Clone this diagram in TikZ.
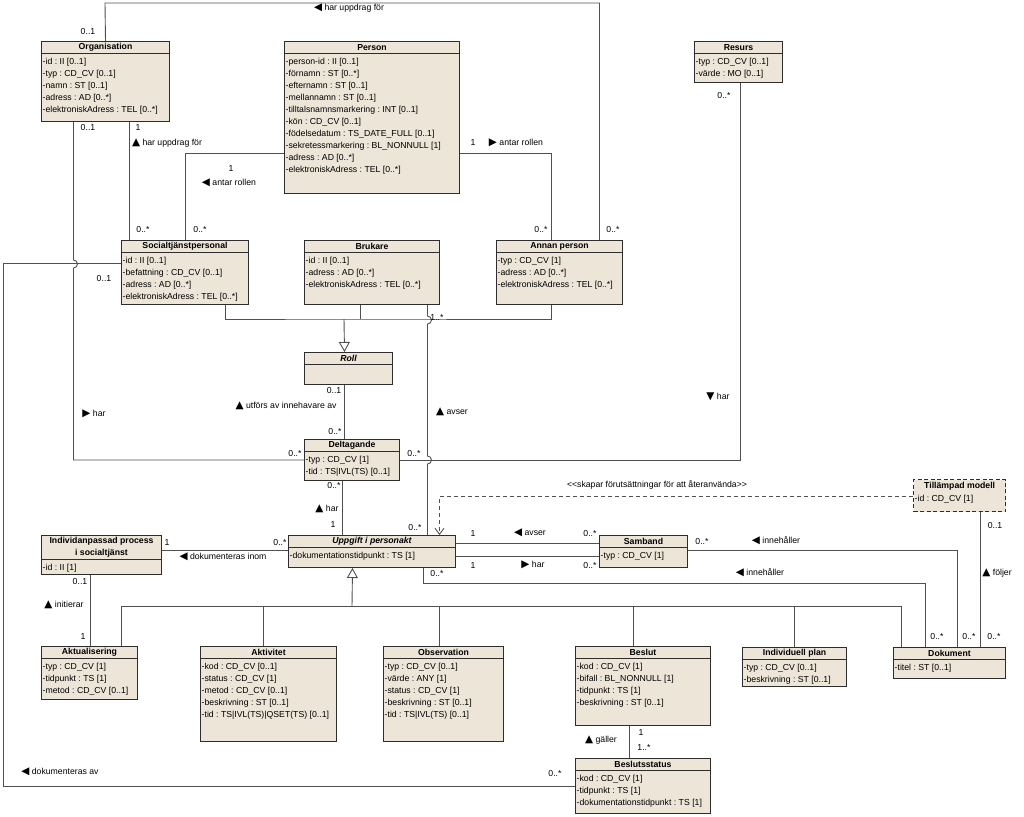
\documentclass[tikz,border=0pt]{standalone}
\usepackage{fontspec}
\setmainfont{Liberation Sans}
\newfontfamily\trifont{DejaVu Sans}
\usetikzlibrary{arrows.meta}
\frenchspacing

\definecolor{classfill}{RGB}{236,229,216}
\definecolor{classline}{RGB}{45,45,45}
\definecolor{pathline}{RGB}{80,80,80}

\newcommand{\umlfont}{\fontsize{8.7}{12}\selectfont}
\newcommand{\arrL}{{\trifont\fontsize{10.5}{12}\selectfont\char"25C0}}
\newcommand{\arrR}{{\trifont\fontsize{10.5}{12}\selectfont\char"25B6}}
\newcommand{\arrU}{{\trifont\fontsize{10.5}{12}\selectfont\char"25B2}}
\newcommand{\arrD}{{\trifont\fontsize{10.5}{12}\selectfont\char"25BC}}

\begin{document}
\begin{tikzpicture}[x=1pt,y=-1pt,
class/.style={rectangle, draw=classline, fill=classfill, line width=1pt, inner sep=0pt, anchor=north west},
classname/.style={anchor=north, inner sep=0pt, minimum height=12pt, font=\umlfont\bfseries, align=center},
divider/.style={draw=classline, line width=0.8pt},
attrs/.style={anchor=north west, align=left, inner xsep=1.5pt, inner ysep=4.5pt, font=\umlfont},
assoc/.style={draw=pathline, line width=0.9pt},
gen/.style={assoc, -{Triangle[open, length=10pt, width=11pt]}},
depend/.style={assoc, dash pattern=on 4pt off 3pt, -{Straight Barb[length=6pt, width=9pt]}},
mult/.style={inner sep=0.5pt, font=\umlfont},
role/.style={inner sep=0.5pt, font=\umlfont}
]
\useasboundingbox [fill=white] (0,0) rectangle (1024,816);

%% Klasser   %%%%%%%%%%%%%%%%%%%%%%%%%%%%%%%%%%%%%%%%%%%%%%%%%%%%%%%%%%%%%%%%%%%%%%%

%% Organisation, Person, Resurs
\node [class, minimum width=128pt, minimum height=80pt] (Org) at (41,41) {};
\node [classname] (OrgN) at (Org.north) {Organisation};
\draw [divider] (OrgN.south -| Org.west) -- (OrgN.south -| Org.east);
\node [attrs] (OrgA) at (OrgN.south -| Org.west) {-id : II [0..1]\\-typ : CD\_CV [0..1]\\-namn : ST [0..1]\\-adress : AD [0..*]\\-elektroniskAdress : TEL [0..*]};

\node [class, minimum width=175pt, minimum height=152pt] (Pers) at (284,41) {};
\node [classname] (PersN) at (Pers.north) {Person};
\draw [divider] (PersN.south -| Pers.west) -- (PersN.south -| Pers.east);
\node [attrs] (PersA) at (PersN.south -| Pers.west) {-person-id : II [0..1]\\-förnamn : ST [0..*]\\-efternamn : ST [0..1]\\-mellannamn : ST [0..1]\\-tilltalsnamnsmarkering : INT [0..1]\\-kön : CD\_CV [0..1]\\-födelsedatum : TS\_DATE\_FULL [0..1]\\-sekretessmarkering : BL\_NONNULL [1]\\-adress : AD [0..*]\\-elektroniskAdress : TEL [0..*]};

\node [class, minimum width=88pt, minimum height=41pt] (Res) at (694,41) {};
\node [classname] (ResN) at (Res.north) {Resurs};
\draw [divider] (ResN.south -| Res.west) -- (ResN.south -| Res.east);
\node [attrs] (ResA) at (ResN.south -| Res.west) {-typ : CD\_CV [0..1]\\-värde : MO [0..1]};

%% Roller
\node [class, minimum width=127pt, minimum height=64pt] (Soc) at (121,240) {};
\node [classname] (SocN) at (Soc.north) {Socialtjänstpersonal};
\draw [divider] (SocN.south -| Soc.west) -- (SocN.south -| Soc.east);
\node [attrs] (SocA) at (SocN.south -| Soc.west) {-id : II [0..1]\\-befattning : CD\_CV [0..1]\\-adress : AD [0..*]\\-elektroniskAdress : TEL [0..*]};

\node [class, minimum width=135pt, minimum height=64pt] (Bru) at (304,240) {};
\node [classname] (BruN) at (Bru.north) {Brukare};
\draw [divider] (BruN.south -| Bru.west) -- (BruN.south -| Bru.east);
\node [attrs] (BruA) at (BruN.south -| Bru.west) {-id : II [0..1]\\-adress : AD [0..*]\\-elektroniskAdress : TEL [0..*]};

\node [class, minimum width=126pt, minimum height=64pt] (Ann) at (496,240) {};
\node [classname] (AnnN) at (Ann.north) {Annan person};
\draw [divider] (AnnN.south -| Ann.west) -- (AnnN.south -| Ann.east);
\node [attrs] (AnnA) at (AnnN.south -| Ann.west) {-typ : CD\_CV [1]\\-adress : AD [0..*]\\-elektroniskAdress : TEL [0..*]};

\node [class, minimum width=88pt, minimum height=32pt] (Roll) at (304,352) {};
\node [classname] (RollN) at (Roll.north) {\itshape Roll};
\draw [divider] (RollN.south -| Roll.west) -- (RollN.south -| Roll.east);

\node [class, minimum width=95pt, minimum height=41pt] (Delt) at (304,439) {};
\node [classname] (DeltN) at (Delt.north) {Deltagande};
\draw [divider] (DeltN.south -| Delt.west) -- (DeltN.south -| Delt.east);
\node [attrs] (DeltA) at (DeltN.south -| Delt.west) {-typ : CD\_CV [1]\\-tid : TS|IVL(TS) [0..1]};

%% Process, Uppgift, Samband, Tillämpad modell
\node [class, minimum width=120pt, minimum height=39pt] (Proc) at (41,535) {};
\node [classname, minimum height=24pt] (ProcN) at (Proc.north) {Individanpassad process\\i socialtjänst};
\draw [divider] (ProcN.south -| Proc.west) -- (ProcN.south -| Proc.east);
\node [attrs] (ProcA) at (ProcN.south -| Proc.west) {-id : II [1]};

\node [class, minimum width=167pt, minimum height=32pt] (Upp) at (288,535) {};
\node [classname] (UppN) at (Upp.north) {\itshape Uppgift i personakt};
\draw [divider] (UppN.south -| Upp.west) -- (UppN.south -| Upp.east);
\node [attrs] (UppA) at (UppN.south -| Upp.west) {-dokumentationstidpunkt : TS [1]};

\node [class, minimum width=88pt, minimum height=32pt] (Samb) at (599,535) {};
\node [classname] (SambN) at (Samb.north) {Samband};
\draw [divider] (SambN.south -| Samb.west) -- (SambN.south -| Samb.east);
\node [attrs] (SambA) at (SambN.south -| Samb.west) {-typ : CD\_CV [1]};

\node [class, dash pattern=on 4pt off 2.5pt, line width=1.3pt, minimum width=92pt, minimum height=32pt] (Till) at (913,479) {};
\node [classname, yshift=-1.5pt] (TillN) at (Till.north) {Tillämpad modell};
\node [attrs, inner ysep=2pt] (TillA) at (TillN.south -| Till.west) {-id : CD\_CV [1]};

%% Uppgifter
\node [class, minimum width=96pt, minimum height=53pt] (Akt) at (41,646) {};
\node [classname] (AktN) at (Akt.north) {Aktualisering};
\draw [divider] (AktN.south -| Akt.west) -- (AktN.south -| Akt.east);
\node [attrs] (AktA) at (AktN.south -| Akt.west) {-typ : CD\_CV [1]\\-tidpunkt : TS [1]\\-metod : CD\_CV [0..1]};

\node [class, minimum width=136pt, minimum height=95pt] (Aktiv) at (200,646) {};
\node [classname] (AktivN) at (Aktiv.north) {Aktivitet};
\draw [divider] (AktivN.south -| Aktiv.west) -- (AktivN.south -| Aktiv.east);
\node [attrs] (AktivA) at (AktivN.south -| Aktiv.west) {-kod : CD\_CV [0..1]\\-status : CD\_CV [1]\\-metod : CD\_CV [0..1]\\-beskrivning : ST [0..1]\\-tid : TS|IVL(TS)|QSET(TS) [0..1]};

\node [class, minimum width=120pt, minimum height=95pt] (Obs) at (383,646) {};
\node [classname] (ObsN) at (Obs.north) {Observation};
\draw [divider] (ObsN.south -| Obs.west) -- (ObsN.south -| Obs.east);
\node [attrs] (ObsA) at (ObsN.south -| Obs.west) {-typ : CD\_CV [0..1]\\-värde : ANY [1]\\-status : CD\_CV [1]\\-beskrivning : ST [0..1]\\-tid : TS|IVL(TS) [0..1]};

\node [class, minimum width=135pt, minimum height=79pt] (Bes) at (575,646) {};
\node [classname] (BesN) at (Bes.north) {Beslut};
\draw [divider] (BesN.south -| Bes.west) -- (BesN.south -| Bes.east);
\node [attrs] (BesA) at (BesN.south -| Bes.west) {-kod : CD\_CV [1]\\-bifall : BL\_NONNULL [1]\\-tidpunkt : TS [1]\\-beskrivning : ST [0..1]};

\node [class, minimum width=104pt, minimum height=39pt] (Plan) at (742,647) {};
\node [classname] (PlanN) at (Plan.north) {Individuell plan};
\draw [divider] (PlanN.south -| Plan.west) -- (PlanN.south -| Plan.east);
\node [attrs] (PlanA) at (PlanN.south -| Plan.west) {-typ : CD\_CV [0..1]\\-beskrivning : ST [0..1]};

\node [class, minimum width=112pt, minimum height=31pt] (Dok) at (893,647) {};
\node [classname] (DokN) at (Dok.north) {Dokument};
\draw [divider] (DokN.south -| Dok.west) -- (DokN.south -| Dok.east);
\node [attrs] (DokA) at (DokN.south -| Dok.west) {-titel : ST [0..1]};

\node [class, minimum width=135pt, minimum height=55pt] (Bstat) at (575,758) {};
\node [classname] (BstatN) at (Bstat.north) {Beslutsstatus};
\draw [divider] (BstatN.south -| Bstat.west) -- (BstatN.south -| Bstat.east);
\node [attrs] (BstatA) at (BstatN.south -| Bstat.west) {-kod : CD\_CV [1]\\-tidpunkt : TS [1]\\-dokumentationstidpunkt : TS [1]};


%% Associationer %%%%%%%%%%%%%%%%%%%%%%%%%%%%%%%%%%%%%%%%%%%%%%%%%%%%%%%%%%%%%%%%%%%

\coordinate (topL) at (105,3);
\draw [assoc] (Org.north) -- (topL) -| ([xshift=40pt]Ann.north);
\draw [assoc] ([xshift=-32pt]Org.south) -- ++(0,138) arc [start angle=90, end angle=-90, radius=4pt] |- (Delt.west);
\draw [assoc] ([xshift=24pt]Org.south) -- ([xshift=24pt]Org.south |- Soc.north);
\draw [assoc] ([yshift=-36pt]Pers.west) -| (Soc.north);
\draw [assoc] ([yshift=-36pt]Pers.east) -| ([xshift=-8pt]Ann.north);
\draw [assoc] ([yshift=9pt]Soc.west) -- ++(-118,0) |- (Bstat.west);

\draw [assoc] ([xshift=-4pt]Roll.south) -- ([xshift=-4pt]Roll.south |- Delt.north);
\draw [assoc] ([xshift=55.5pt]Bru.south) -- ++(0,11) arc [start angle=90, end angle=-90, radius=4pt]
  -- ++(0,132) arc [start angle=90, end angle=-90, radius=4pt] -- ([xshift=55.5pt]Bru.south |- Upp.north);
\draw [assoc] ([xshift=2pt]Res.south) |- (Delt.east);
\draw [assoc] ([xshift=-9.5pt]Delt.south) -- ([xshift=-9.5pt]Delt.south |- Upp.north);

\draw [assoc] ([yshift=4.5pt]Proc.east) -- ([yshift=4.5pt]Proc.east -| Upp.west);
\draw [assoc] ([xshift=-11pt]Proc.south) -- ([xshift=-11pt]Proc.south |- Akt.north);
\draw [depend] ([yshift=-1pt]Till.west) -| ([xshift=67.5pt]Upp.north);
\draw [assoc] ([yshift=8pt]Upp.east) -- ([yshift=8pt]Samb.west);
\draw [assoc] ([yshift=-5pt]Upp.east) -- ([yshift=-5pt]Samb.west);
\draw [assoc] ([yshift=1pt]Samb.east) -| ([xshift=8pt]Dok.north);
\draw [assoc] ([xshift=51.5pt]Upp.south) -- ++(0,15) -| ([xshift=-24pt]Dok.north);
\draw [assoc] ([xshift=21pt]Till.south) -- ([xshift=21pt]Till.south |- Dok.north);
\draw [assoc] ([xshift=-13.5pt]Bes.south) -- ([xshift=-13.5pt]Bes.south |- Bstat.north);

%% Generaliseringar
\coordinate (rollJ) at (344,319);
\draw [assoc] ([xshift=40.5pt]Soc.south) |- (rollJ) -| ([xshift=-8pt]Ann.south);
\draw [assoc] ([xshift=-11.5pt]Bru.south) -- ([xshift=-11.5pt]Bru.south |- rollJ);
\draw [gen] (rollJ) -- ([xshift=-4pt]Roll.north);

\coordinate (uppJ) at (352,606);
\draw [gen] (uppJ) -- ([xshift=-19.5pt]Upp.south);
\foreach \cls/\dx in {Akt/32, Aktiv/-5, Obs/-4, Bes/-9.5, Plan/0, Dok/-48}
\draw [assoc] (uppJ) -| ([xshift=\dx pt]\cls.north);


%% Multipliciteter & Rollnamn %%%%%%%%%%%%%%%%%%%%%%%%%%%%%%%%%%%%%%%%%%%%%%%%%%%%%%%

\foreach \x/\y/\txt [count=\i] in {88/32/0..1, 613/230/0..*, 88/128/0..1, 138/128/1,
  143/230/0..*, 231/169/1, 200/230/0..*, 473/143/1, 541/230/0..*, 104/279/0..1,
  295/453/0..*, 437/318/1..*, 334/390/0..1, 335/431/0..*, 414/453/0..*, 724/96/0..*,
  334/485/0..*, 333/524/1, 167/542/1, 280/542/0..*, 415/527/0..*, 80/581/0..1,
  83/636/1, 473/533/1, 590/533/0..*, 473/565/1, 590/565/0..*, 702/541/0..*,
  437/573/0..*, 995/525/0..1, 937/636/0..*, 969/636/0..*, 994/636/0..*,
  641/732/1, 644/747/1..*, 555/773/0..*}
\node [mult] (m\i) at (\x,\y) {\txt};

\node [role] (r1)  at (349,8)   {\arrL\ har uppdrag för};
\node [role] (r2)  at (167,143) {\arrU\ har uppdrag för};
\node [role] (r3)  at (229,183) {\arrL\ antar rollen};
\node [role] (r4)  at (516,143) {\arrR\ antar rollen};
\node [role] (r5)  at (94,414)  {\arrR\ har};
\node [role] (r6)  at (286,406) {\arrU\ utförs av innehavare av};
\node [role] (r7)  at (452,412) {\arrU\ avser};
\node [role] (r8)  at (718,397) {\arrD\ har};
\node [role] (r9)  at (327,509) {\arrU\ har};
\node [role] (r10) at (223,557) {\arrL\ dokumenteras inom};
\node [role] (r11) at (64,605)  {\arrU\ initierar};
\node [role] (r12) at (530,533) {\arrL\ avser};
\node [role] (r13) at (533,565) {\arrR\ har};
\node [role] (r14) at (776,541) {\arrL\ innehåller};
\node [role] (r15) at (760,573) {\arrL\ innehåller};
\node [role] (r16) at (997,573) {\arrU\ följer};
\node [role] (r17) at (601,740) {\arrU\ gäller};
\node [role] (r18) at (60,772)  {\arrL\ dokumenteras av};
\node [role] (r19) at (657,485) {<{}<skapar förutsättningar för att återanvända>{}>};

\end{tikzpicture}
\end{document}
